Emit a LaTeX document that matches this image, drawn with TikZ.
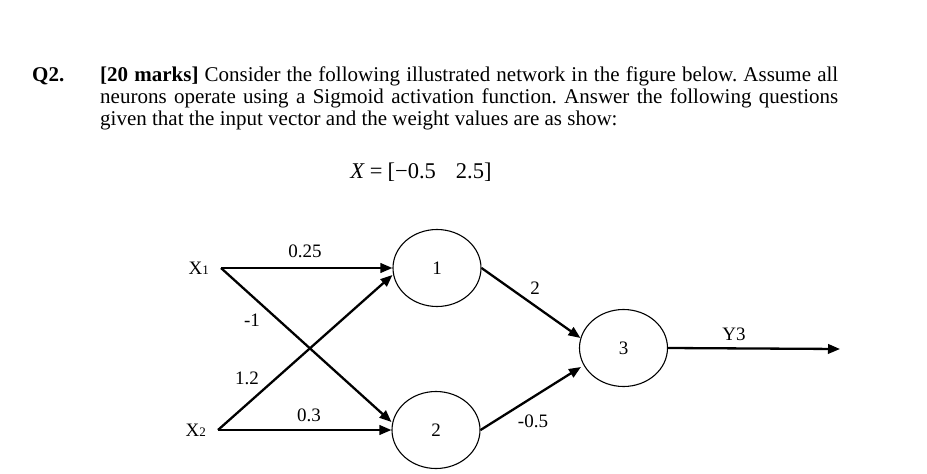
\documentclass[tikz,border=0pt]{standalone}
\usepackage{fontspec}
\setmainfont{Liberation Serif}
\usetikzlibrary{arrows.meta,shapes.geometric}
\frenchspacing
\begin{document}
\begin{tikzpicture}[x=1pt,y=-1pt,
  head/.style={font=\fontsize{21}{22}\selectfont, inner sep=0pt},
  txt/.style={font=\fontsize{19}{22}\selectfont, inner sep=0pt},
  neuron/.style={draw, ellipse, minimum width=88pt, minimum height=77pt, line width=1.1pt, inner sep=0pt, font=\fontsize{19}{22}\selectfont},
  conn/.style={line width=2.3pt, -{Triangle[length=12pt,width=9.5pt]}},
  inp/.style={font=\fontsize{19}{22}\selectfont, inner xsep=12pt, inner ysep=0pt, anchor=east}]
\useasboundingbox[fill=white] (0,0) rectangle (927,474);
% heading text
\node[head, anchor=base west] (q) at (32,81) {\textbf{Q2.}};
\node[head, anchor=base west] (l1) at (100,81) {\makebox[738pt][s]{\textbf{[20 marks]} Consider the following illustrated network in the figure below. Assume all}};
\node[head, anchor=base west] (l2) at (100,103) {\makebox[738pt][s]{neurons operate using a Sigmoid activation function. Answer the following questions}};
\node[head, anchor=base west] (l3) at (100,125) {given that the input vector and the weight values are as show:};
\node[font=\fontsize{22.5}{24}\selectfont, inner sep=0pt, anchor=base] (vec) at (421,178) {\textit{X}\hspace{5pt}=\hspace{5pt}[−0.5\hspace{20pt}2.5]};
% network
\node[inp] (x1) at (221,268) {X{\fontsize{13}{13}\selectfont 1}};
\node[inp] (x2) at (218,430) {X{\fontsize{13}{13}\selectfont 2}};
\node[neuron] (n1) at (437,268) {1};
\node[neuron] (n2) at (436,430) {2};
\node[neuron] (n3) at (623.5,348) {3};
\coordinate (out) at (840,349);
\draw[conn] (x1.east) -- (n1.west);
\draw[conn] (x1.east) -- ([yshift=8pt]n2.west);
\draw[conn] (x2.east) -- ([yshift=-7pt]n1.west);
\draw[conn] (x2.east) -- (n2.west);
\draw[conn] (n1.east) -- ([xshift=1.5pt,yshift=10pt]n3.west);
\draw[conn] (n2.east) -- ([xshift=2pt,yshift=-19pt]n3.west);
\draw[conn] (n3.east) -- (out);
% weights
\node[txt] (w11) at (305,251) {0.25};
\node[txt] (w12) at (252,320) {-1};
\node[txt] (w21) at (247,378) {1.2};
\node[txt] (w22) at (309,415) {0.3};
\node[txt] (w13) at (535,288) {2};
\node[txt] (w23) at (533,421) {-0.5};
\node[txt] (y3) at (734,334) {Y3};
\end{tikzpicture}
\end{document}
